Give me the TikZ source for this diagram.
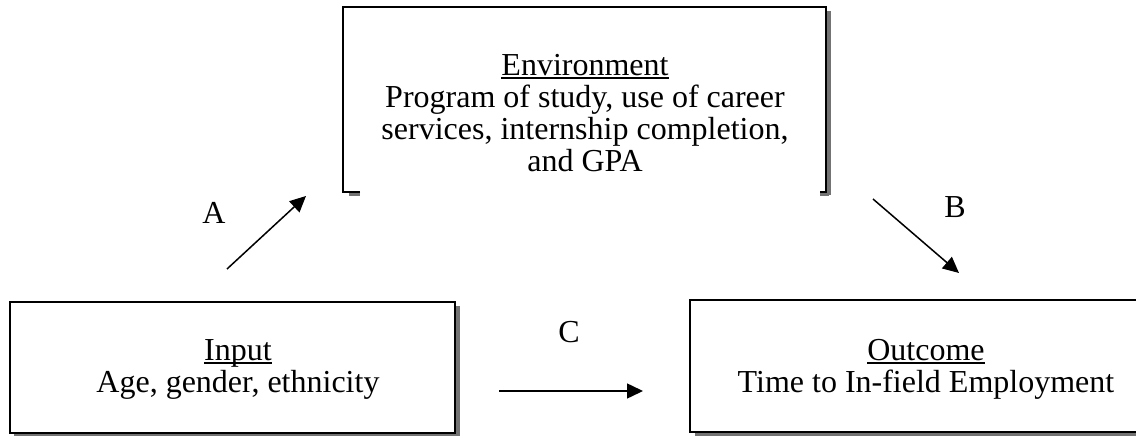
\documentclass[tikz,border=0pt]{standalone}
\usepackage{fontspec}
\setmainfont{Liberation Serif}
\usetikzlibrary{arrows.meta}
\newcommand\myul[1]{\setbox0\hbox{#1}\rlap{\copy0}\raisebox{-3.5pt}{\rule{\wd0}{1.8pt}}}
\tikzset{
  boxline/.style={line width=2pt, black},
  shadowline/.style={line width=4pt, gray!90!black},
  txt/.style={align=center, font=\fontsize{32}{32}\selectfont, inner sep=0pt},
  lbl/.style={font=\fontsize{32}{32}\selectfont, inner sep=0pt},
  arr/.style={line width=1.5pt, -{Triangle[length=16pt,width=15pt]}}
}
\begin{document}
\begin{tikzpicture}[x=1pt,y=-1pt]
\useasboundingbox (0,0) rectangle (1136,436);
% ---- Environment box (bottom edge open)
\coordinate (eTL) at (343,7);
\coordinate (eTR) at (826,7);
\coordinate (eBL) at (343,192);
\coordinate (eBR) at (826,192);
\draw[shadowline] (829,11) -- (829,195);
\draw[shadowline] (349,194) -- (360,194);
\draw[shadowline] (820,194) -- (829,194);
\draw[boxline] (360,192) -- (eBL) -- (eTL) -- (eTR) -- (eBR) -- (820,192);
\node[txt] (env) at (585,113) {\myul{Environment}\\Program of study, use of career\\services, internship completion,\\and GPA};
% ---- Input box
\coordinate (iTL) at (10,302);
\coordinate (iBR) at (455,433);
\draw[shadowline] (458,306) -- (458,436) ;
\draw[shadowline] (14,435.5) -- (460,435.5);
\draw[boxline] (iTL) rectangle (iBR);
\node[txt] (inp) at (238,369) {\myul{Input}\\Age, gender, ethnicity};
% ---- Outcome box
\coordinate (oTL) at (690,300);
\coordinate (oBR) at (1145,432);
\draw[shadowline] (695,434.5) -- (1140,434.5);
\draw[boxline] (oTL) rectangle (oBR);
\node[txt] (out) at (926,369) {\myul{Outcome}\\Time to In-field Employment};
% ---- Arrows
\coordinate (aS) at (227,269);
\coordinate (aE) at (306,196);
\coordinate (bS) at (873,199);
\coordinate (bE) at (959,273);
\coordinate (cS) at (499,391);
\coordinate (cE) at (643,391);
\draw[arr] (aS) -- (aE);
\draw[arr] (bS) -- (bE);
\draw[arr] (cS) -- (cE);
\node[lbl] (A) at (214,213) {A};
\node[lbl] (B) at (955,207) {B};
\node[lbl] (C) at (569,332) {C};
\end{tikzpicture}
\end{document}
